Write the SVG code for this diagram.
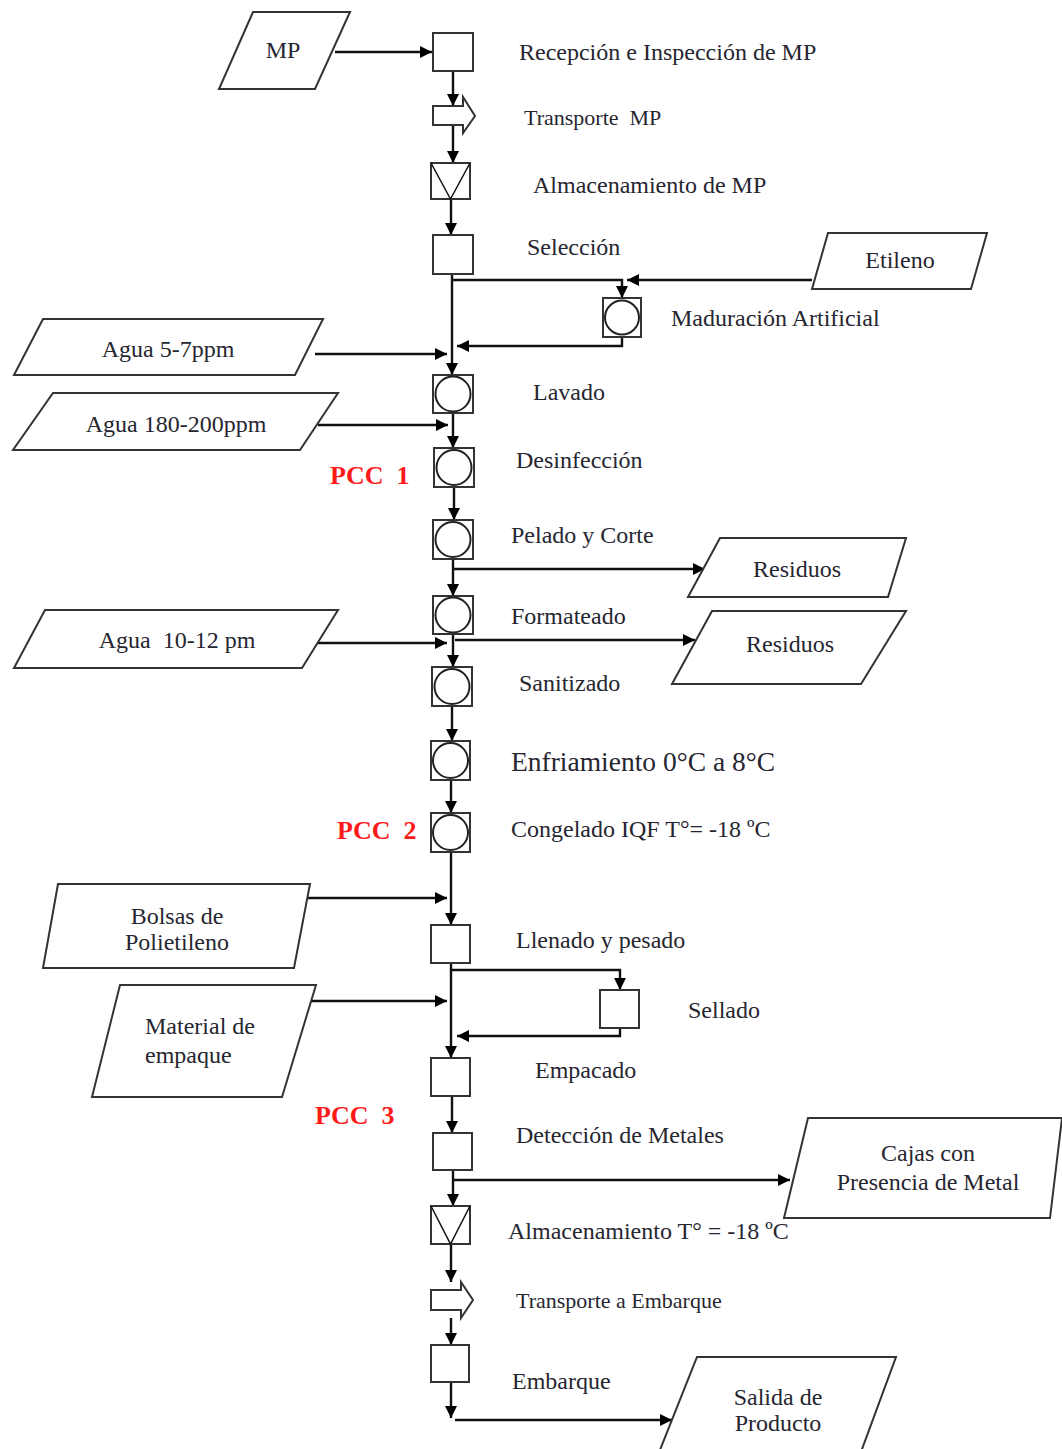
<svg xmlns="http://www.w3.org/2000/svg" width="1062" height="1449" viewBox="0 0 1062 1449">
<defs>
<marker id="ah" viewBox="0 0 10 10" refX="10" refY="5" markerWidth="14" markerHeight="12" markerUnits="userSpaceOnUse" orient="auto"><path d="M0,0 L10,5 L0,10 z" fill="#000"/></marker>
<style>
.n{fill:#fff;stroke:#333;stroke-width:2}
.c{fill:#fff;stroke:#222;stroke-width:2}
.p{fill:#fff;stroke:#333;stroke-width:2}
.e{fill:none;stroke:#111;stroke-width:2.4;marker-end:url(#ah)}
.l{fill:none;stroke:#111;stroke-width:1.5}
.t{font-family:"Liberation Serif","Times New Roman","DejaVu Serif",serif;font-size:24px;fill:#262630}
.s{font-size:22px}
.m{text-anchor:middle}
.r{font-family:"Liberation Serif","Times New Roman","DejaVu Serif",serif;font-size:26px;font-weight:bold;fill:#ff1a1a}
</style>
</defs>
<rect width="1062" height="1449" fill="#fff"/>

<g id="connectors">
<path class="e" d="M335,52 H432"/>
<path class="e" d="M453,71 V106"/>
<path class="e" d="M453,125 V163"/>
<path class="e" d="M451,199 V235"/>
<path class="e" d="M452,274 V375"/>
<path class="e" d="M452,280 H622 V298"/>
<path class="e" d="M812,280 H627"/>
<path class="e" d="M622,337 V346 H457"/>
<path class="e" d="M315,354 H447"/>
<path class="e" d="M453,413 V448"/>
<path class="e" d="M318,425 H448"/>
<path class="e" d="M454,487 V520"/>
<path class="e" d="M453,559 V596"/>
<path class="e" d="M453,569 H705"/>
<path class="e" d="M453,634 V667"/>
<path class="e" d="M318,643 H447"/>
<path class="e" d="M455,640 H695"/>
<path class="e" d="M452,706 V741"/>
<path class="e" d="M451,780 V813"/>
<path class="e" d="M451,852 V925"/>
<path class="e" d="M305,898 H447"/>
<path class="e" d="M451,963 V1058"/>
<path class="e" d="M451,970 H620 V990"/>
<path class="e" d="M620,1028 V1036 H457"/>
<path class="e" d="M310,1001 H447"/>
<path class="e" d="M452,1096 V1133"/>
<path class="e" d="M453,1170 V1206"/>
<path class="e" d="M453,1180 H790"/>
<path class="e" d="M451,1244 V1282"/>
<path class="e" d="M451,1318 V1345"/>
<path class="e" d="M451,1382 V1418"/>
<path class="e" d="M455,1420 H672"/>
</g>

<g id="mp"><polygon class="p" points="253,12 350,12 315,89 219,89"/><text class="t m" x="283" y="58">MP</text></g>
<g id="recepcion"><rect class="n" x="433" y="33" width="40" height="38"/><text class="t" x="519" y="60">Recepción e Inspección de MP</text></g>
<g id="transporte-mp"><path class="n" d="M433,106 H463 V97 L475,116 L463,133 V125 H433 Z"/><text class="t s" x="524" y="125" xml:space="preserve">Transporte  MP</text></g>
<g id="almacenamiento-mp"><rect class="n" x="431" y="163" width="39" height="36"/><polyline class="l" points="431,163 450.5,199 470,163"/><text class="t" x="533" y="193">Almacenamiento de MP</text></g>
<g id="seleccion"><rect class="n" x="433" y="235" width="40" height="39"/><text class="t" x="527" y="255">Selección</text></g>
<g id="etileno"><polygon class="p" points="828,233 987,233 971,289 812,289"/><text class="t m" x="900" y="268">Etileno</text></g>
<g id="maduracion"><rect class="n" x="603" y="298" width="38" height="39"/><circle class="c" cx="622" cy="317.5" r="17"/><text class="t" x="671" y="326">Maduración Artificial</text></g>
<g id="agua1"><polygon class="p" points="43,319 323,319 295,375 14,375"/><text class="t m" x="168" y="357">Agua 5-7ppm</text></g>
<g id="lavado"><rect class="n" x="433" y="375" width="40" height="38"/><circle class="c" cx="453" cy="394" r="17.5"/><text class="t" x="533" y="400">Lavado</text></g>
<g id="agua2"><polygon class="p" points="53,393 338,393 300,450 13,450"/><text class="t m" x="176" y="432">Agua 180-200ppm</text></g>
<g id="desinfeccion"><rect class="n" x="434" y="448" width="40" height="39"/><circle class="c" cx="454" cy="467.5" r="17.5"/><text class="t" x="516" y="468">Desinfección</text><text class="r" x="330" y="484" xml:space="preserve">PCC  1</text></g>
<g id="pelado"><rect class="n" x="433" y="520" width="40" height="39"/><circle class="c" cx="453" cy="539.5" r="17.5"/><text class="t" x="511" y="543">Pelado y Corte</text></g>
<g id="residuos1"><polygon class="p" points="720,538 906,538 888,597 688,597"/><text class="t m" x="797" y="577">Residuos</text></g>
<g id="formateado"><rect class="n" x="433" y="596" width="40" height="38"/><circle class="c" cx="453" cy="615" r="17.5"/><text class="t" x="511" y="624">Formateado</text></g>
<g id="agua3"><polygon class="p" points="45,610 338,610 302,668 14,668"/><text class="t m" x="177" y="648" xml:space="preserve">Agua  10-12 pm</text></g>
<g id="residuos2"><polygon class="p" points="712,611 906,611 861,684 672,684"/><text class="t m" x="790" y="652">Residuos</text></g>
<g id="sanitizado"><rect class="n" x="432" y="667" width="40" height="39"/><circle class="c" cx="452" cy="686.5" r="17.5"/><text class="t" x="519" y="691">Sanitizado</text></g>
<g id="enfriamiento"><rect class="n" x="431" y="741" width="39" height="39"/><circle class="c" cx="450.5" cy="760.5" r="17.5"/><text class="t" x="511" y="771" style="font-size:27.5px">Enfriamiento 0°C a 8°C</text></g>
<g id="congelado"><rect class="n" x="431" y="813" width="39" height="39"/><circle class="c" cx="450.5" cy="832.5" r="17.5"/><text class="t" x="511" y="837">Congelado IQF T°= -18 ºC</text><text class="r" x="337" y="839" xml:space="preserve">PCC  2</text></g>
<g id="bolsas"><polygon class="p" points="58,884 310,884 294,968 43,968"/><text class="t m" x="177" y="924">Bolsas de</text><text class="t m" x="177" y="950">Polietileno</text></g>
<g id="llenado"><rect class="n" x="431" y="925" width="39" height="38"/><text class="t" x="516" y="948">Llenado y pesado</text></g>
<g id="sellado"><rect class="n" x="600" y="990" width="39" height="38"/><text class="t" x="688" y="1018">Sellado</text></g>
<g id="material"><polygon class="p" points="120,985 316,985 282,1097 92,1097"/><text class="t" x="145" y="1034">Material de</text><text class="t" x="145" y="1063">empaque</text></g>
<g id="empacado"><rect class="n" x="431" y="1058" width="39" height="38"/><text class="t" x="535" y="1078">Empacado</text><text class="r" x="315" y="1124" xml:space="preserve">PCC  3</text></g>
<g id="deteccion"><rect class="n" x="433" y="1133" width="39" height="37"/><text class="t" x="516" y="1143">Detección de Metales</text></g>
<g id="cajas"><polygon class="p" points="808,1118 1062,1118 1050,1218 784,1218"/><text class="t m" x="928" y="1161">Cajas con</text><text class="t m" x="928" y="1190">Presencia de Metal</text></g>
<g id="almacenamiento-t"><rect class="n" x="431" y="1206" width="39" height="38"/><polyline class="l" points="431,1206 450.5,1244 470,1206"/><text class="t" x="508" y="1239">Almacenamiento T° = -18 ºC</text></g>
<g id="transporte-embarque"><path class="n" d="M431,1290 H461 V1282 L473,1300 L461,1318 V1310 H431 Z"/><text class="t s" x="516" y="1308">Transporte a Embarque</text></g>
<g id="embarque"><rect class="n" x="431" y="1345" width="38" height="37"/><text class="t" x="512" y="1389">Embarque</text></g>
<g id="salida"><polygon class="p" points="697,1357 896,1357 858,1460 656,1460"/><text class="t m" x="778" y="1405">Salida de</text><text class="t m" x="778" y="1431">Producto</text></g>
</svg>
